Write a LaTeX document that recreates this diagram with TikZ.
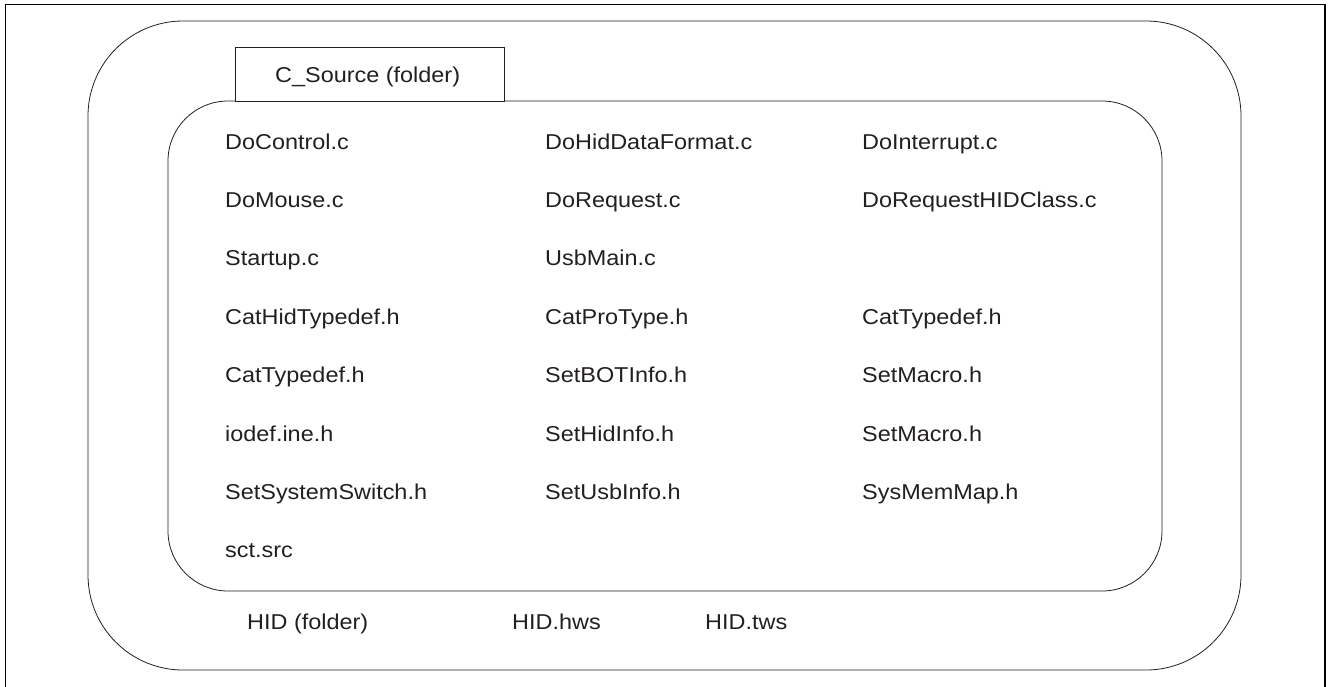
\documentclass[tikz,border=0pt]{standalone}
\usepackage{fontspec}
\setmainfont{Liberation Sans}[FakeStretch=1.09]
\definecolor{ink}{HTML}{231F20}
\begin{document}
\begin{tikzpicture}[x=1pt,y=-1pt,
  file/.style={anchor=base west,inner sep=0pt,text=ink,font=\fontsize{21.5}{25}\selectfont},
  frame/.style={draw=black,line width=1.4pt},
  folder/.style={draw=ink,line width=0.8pt}]
\useasboundingbox (0,0) rectangle (1328,686);
% page frame
\draw[frame] (5.5,690) -- (5.5,4.7) -- (1325,4.7) -- (1325,690);
% HID folder
\draw[folder,rounded corners=95pt] (88,21) rectangle (1241,670);
% C_Source folder
\draw[folder,rounded corners=60pt] (168,101) rectangle (1162,591);
\draw[folder,fill=white] (235,47) rectangle (504,101);
\node[file] (csrc) at (275,82) {C\_Source (folder)};
% files
\foreach \n/\c/\r/\t in {
  a1/225/0/DoControl.c, a2/545/0/DoHidDataFormat.c, a3/862/0/DoInterrupt.c,
  b1/225/1/DoMouse.c, b2/545/1/DoRequest.c, b3/862/1/DoRequestHIDClass.c,
  c1/225/2/Startup.c, c2/545/2/UsbMain.c,
  d1/225/3/CatHidTypedef.h, d2/545/3/CatProType.h, d3/862/3/CatTypedef.h,
  e1/225/4/CatTypedef.h, e2/545/4/SetBOTInfo.h, e3/862/4/SetMacro.h,
  f1/225/5/iodef.ine.h, f2/545/5/SetHidInfo.h, f3/862/5/SetMacro.h,
  g1/225/6/SetSystemSwitch.h, g2/545/6/SetUsbInfo.h, g3/862/6/SysMemMap.h,
  h1/225/7/sct.src}
  {\node[file] (\n) at (\c,149+58.4*\r) {\t};}
% HID level
\node[file] (hidf) at (247,629) {HID (folder)};
\node[file] (hws) at (512,629) {HID.hws};
\node[file] (tws) at (705,629) {HID.tws};
\end{tikzpicture}
\end{document}
